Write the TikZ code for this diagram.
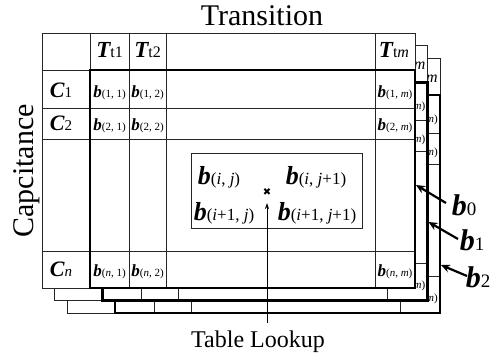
\documentclass[tikz,border=0pt]{standalone}
\usepackage{fontspec}
\setmainfont{Liberation Serif}
\newfontfamily\symfont{DejaVu Sans}
\usetikzlibrary{arrows.meta}
\newcommand\hdrT[1]{{\fontsize{23}{23}\selectfont\bfseries\itshape T}{\fontsize{16}{16}\selectfont #1}}
\newcommand\capC[1]{{\fontsize{22}{22}\selectfont\bfseries\itshape C}{\fontsize{15}{15}\selectfont #1}}
\newcommand\cellb[1]{{\fontsize{17}{17}\selectfont\bfseries\itshape b}{\fontsize{11}{11}\selectfont (#1)}}
\newcommand\bigb[1]{{\fontsize{26}{26}\selectfont\bfseries\itshape b}{\fontsize{17}{17}\selectfont (#1)}}
\newcommand\labb[1]{{\fontsize{30}{30}\selectfont\bfseries\itshape b}{\fontsize{19}{19}\selectfont #1}}
\tikzset{
  thinline/.style={line width=1pt, draw=black!85},
  thickline/.style={line width=2.6pt, draw=black},
  celltext/.style={inner sep=0pt, anchor=base},
  fragtext/.style={inner sep=0pt, anchor=base east},
  layerarrow/.style={line width=2.2pt, -{Stealth[length=9pt,width=8pt]}},
  lookarrow/.style={line width=0.8pt, -{Stealth[length=6pt,width=4pt]}},
  tableframe/.pic={
    \fill[white] (42,33) rectangle (415,288);
    \draw[thinline] (42,288) -- (42,33) -- (415,33) -- (415,70);
    \draw[thinline] (42,70) -- (90,70) -- (90,33);
    \draw[thinline] (42,288) -- (90,288);
    \foreach \yy in {108,139,251} \draw[thinline] (42,\yy) -- (415,\yy);
    \foreach \xx in {129,166,375} \draw[thinline] (\xx,33) -- (\xx,288);
    \draw[thickline] (90,70) rectangle (415,288);
  },
  backlayer/.pic={
    \pic {tableframe};
    \node[fragtext] (-hm) at (413,57) {\fontsize{16}{16}\selectfont\itshape m};
    \node[fragtext] (-r1m) at (413,97) {\fontsize{11}{11}\selectfont\itshape m\upshape)};
    \node[fragtext] (-r2m) at (413,130) {\fontsize{11}{11}\selectfont\itshape m\upshape)};
    \node[fragtext] (-rnm) at (413,276) {\fontsize{11}{11}\selectfont\itshape m\upshape)};
  }
}
\begin{document}
\begin{tikzpicture}[x=1pt, y=-1pt]
\useasboundingbox (0,0) rectangle (490,360);
% stacked layers, back to front
\pic (L2) at (25,25) {backlayer};
\pic (L1) at (12.5,12.5) {backlayer};
\pic (L0) at (0,0) {tableframe};
% front layer texts
\node[celltext] (h1) at (109.5,57) {\hdrT{t1}};
\node[celltext] (h2) at (147.5,57) {\hdrT{t2}};
\node[celltext] (hm) at (394,57) {\hdrT{t\textit{m}}};
\node[celltext] (c1) at (61,97) {\capC{1}};
\node[celltext] (c2) at (61,130) {\capC{2}};
\node[celltext] (cn) at (61,276) {\capC{\textit{n}}};
\node[celltext] (b11) at (109.5,97) {\cellb{1, 1}};
\node[celltext] (b12) at (147.5,97) {\cellb{1, 2}};
\node[celltext] (b1m) at (395,97) {\cellb{1, \textit{m}}};
\node[celltext] (b21) at (109.5,130) {\cellb{2, 1}};
\node[celltext] (b22) at (147.5,130) {\cellb{2, 2}};
\node[celltext] (b2m) at (395,130) {\cellb{2, \textit{m}}};
\node[celltext] (bn1) at (109.5,276) {\cellb{\textit{n}, 1}};
\node[celltext] (bn2) at (147.5,276) {\cellb{\textit{n}, 2}};
\node[celltext] (bnm) at (395,276) {\cellb{\textit{n}, \textit{m}}};
% lookup box
\draw[thinline] (191,153) rectangle (362,228);
\node[celltext] (bij) at (219,184) {\bigb{\textit{i}, \textit{j}}};
\node[celltext] (bij1) at (316,184) {\bigb{\textit{i}, \textit{j}+1}};
\node[celltext] (bi1j) at (224,220) {\bigb{\textit{i}+1, \textit{j}}};
\node[celltext] (bi1j1) at (317,220) {\bigb{\textit{i}+1, \textit{j}+1}};
\node[inner sep=0pt] (star) at (267,192) {\symfont\fontsize{10}{10}\selectfont ✖};
% titles
\node[celltext, font=\fontsize{30}{30}\selectfont] (trans) at (262,25) {Transition};
\node[celltext, rotate=90, font=\fontsize{30}{30}\selectfont] (cap) at (33,171) {Capcitance};
\node[celltext, font=\fontsize{24}{24}\selectfont] (lookup) at (258,347) {Table Lookup};
% lookup arrow
\coordinate (lkstart) at (267,323);
\coordinate (lktip) at (267,203);
\draw[lookarrow] (lkstart) -- (lktip);
% layer labels
\node[celltext] (lb0) at (464,215) {\labb{0}};
\node[celltext] (lb1) at (472,250) {\labb{1}};
\node[celltext] (lb2) at (478,287) {\labb{2}};
\coordinate (t0) at (446,203);
\coordinate (h0) at (416,185);
\coordinate (t1) at (458,239);
\coordinate (h1t) at (428.5,222);
\coordinate (t2) at (467,276);
\coordinate (h2t) at (441,265);
\draw[layerarrow] (t0) -- (h0);
\draw[layerarrow] (t1) -- (h1t);
\draw[layerarrow] (t2) -- (h2t);
\end{tikzpicture}
\end{document}
